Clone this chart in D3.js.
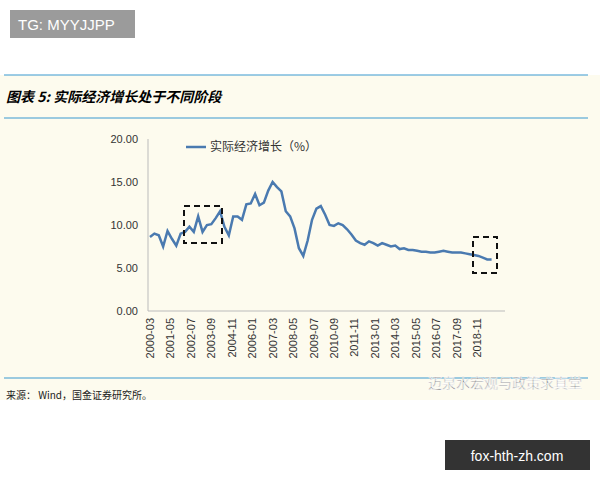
<!DOCTYPE html><html><head><meta charset="utf-8"><script src="https://cdn.jsdelivr.net/npm/d3@7"></script>
<style>body{margin:0;background:#fff}</style></head><body><svg id="c" width="600" height="480"></svg><script>
const growth=[8.6,9.0,8.8,7.5,9.3,8.4,7.6,9.0,9.2,9.8,9.2,11.0,9.2,10.0,10.1,10.8,11.6,9.8,8.8,11.0,11.0,10.6,12.4,12.5,13.6,12.3,12.6,14.0,15.0,14.4,13.9,11.6,11.0,9.6,7.3,6.4,8.2,10.6,11.9,12.2,11.2,10.0,9.9,10.2,10.0,9.5,8.9,8.2,7.9,7.7,8.1,7.9,7.6,7.9,7.7,7.5,7.6,7.2,7.3,7.1,7.1,7.0,6.9,6.9,6.8,6.8,6.9,7.0,6.9,6.8,6.8,6.8,6.7,6.6,6.5,6.4,6.2,6.0,6.0];
const xLabels=["2000-03","2001-05","2002-07","2003-09","2004-11","2006-01","2007-03","2008-05","2009-07","2010-09","2011-11","2013-01","2014-03","2015-05","2016-07","2017-09","2018-11"];
const yTicks=[0,5,10,15,20];
const svg=d3.select("#c");
svg.append("rect").attr("x",0).attr("y",75).attr("width",600).attr("height",325).attr("fill","#fdfbee");
svg.append("rect").attr("x",10).attr("y",10).attr("width",125).attr("height",28).attr("fill","#9b9b9b");
svg.append("text").attr("x",18).attr("y",30).attr("fill","#fff").attr("font-size",15).attr("font-family","Liberation Sans").text("TG: MYYJJPP");
[75,118].forEach(y=>svg.append("line").attr("x1",4).attr("x2",588).attr("y1",y).attr("y2",y).attr("stroke","#3a9ad0").attr("stroke-width",1.2));
svg.append("text").attr("x",6).attr("y",102).attr("font-size",14).attr("font-weight","bold").attr("font-style","italic").attr("font-family","Noto Sans CJK SC").text("图表 5:  实际经济增长处于不同阶段");
const x=d3.scaleLinear().domain([0,224]).range([150,477]);
const y=d3.scaleLinear().domain([0,20]).range([311,139]);
svg.append("line").attr("x1",148).attr("x2",148).attr("y1",139).attr("y2",311).attr("stroke","#bbb");
svg.append("line").attr("x1",148).attr("x2",505).attr("y1",311).attr("y2",311).attr("stroke","#bbb");
yTicks.forEach(t=>svg.append("text").attr("x",138).attr("y",y(t)+4).attr("text-anchor","end").attr("font-size",11).attr("font-family","Liberation Sans").attr("fill","#333").text(t.toFixed(2)));
xLabels.forEach((l,i)=>svg.append("text").attr("transform",`translate(${x(i*14)+4},318) rotate(-90)`).attr("text-anchor","end").attr("font-size",11).attr("font-family","Liberation Sans").attr("fill","#333").text(l));
svg.append("path").datum(growth).attr("fill","none").attr("stroke","#4a7ab0").attr("stroke-width",2.5)
 .attr("d",d3.line().x((d,i)=>x(i*3)).y(d=>y(d)));
svg.append("line").attr("x1",186).attr("x2",206).attr("y1",147).attr("y2",147).attr("stroke","#4a7ab0").attr("stroke-width",2.5);
svg.append("text").attr("x",210).attr("y",151).attr("font-size",12).attr("font-family","Noto Sans CJK SC").attr("fill","#333").text("实际经济增长（%）");
[[184,206,38,37],[473,237,24,36]].forEach(b=>svg.append("rect").attr("x",b[0]).attr("y",b[1]).attr("width",b[2]).attr("height",b[3]).attr("fill","none").attr("stroke","#111").attr("stroke-width",2).attr("stroke-dasharray","6,4"));
svg.append("text").attr("x",6).attr("y",399).attr("font-size",10).attr("font-family","Noto Sans CJK SC").attr("fill","#222").text("来源：  Wind，国金证券研究所。");
svg.append("line").attr("x1",4).attr("x2",588).attr("y1",378).attr("y2",378).attr("stroke","#3a9ad0").attr("stroke-width",1.2);
svg.append("text").attr("x",428).attr("y",388).attr("font-size",14).attr("font-family","Noto Sans CJK SC").attr("fill","#777").attr("stroke","#fff").attr("stroke-width",0.6).text("迈泉水宏观与政策求真堂");
svg.append("rect").attr("x",445).attr("y",440).attr("width",145).attr("height",30).attr("fill","#333");
svg.append("text").attr("x",517).attr("y",461).attr("text-anchor","middle").attr("font-size",14).attr("font-family","Liberation Sans").attr("fill","#fff").text("fox-hth-zh.com");
</script></body></html>
